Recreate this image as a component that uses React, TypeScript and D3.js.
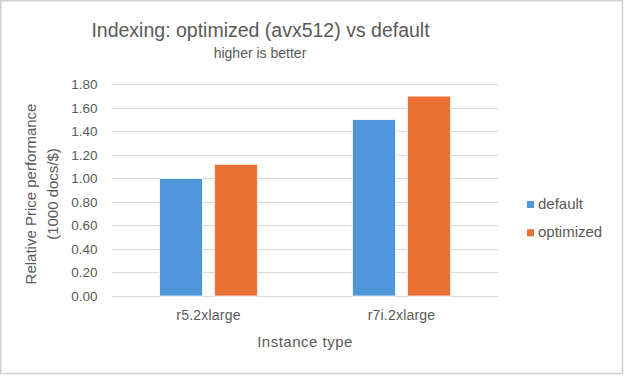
import React from "react";
import * as d3 from "d3";

const categories = ["r5.2xlarge", "r7i.2xlarge"];
const seriesNames = ["default", "optimized"];
const defaultValues = [1.0, 1.5];
const optimizedValues = [1.12, 1.7];
const yTicks = [0, 0.2, 0.4, 0.6, 0.8, 1.0, 1.2, 1.4, 1.6, 1.8];
const colors = ["#4E95D9", "#E97132"];

const W = 624;
const H = 376;
const FONT = "'Liberation Sans', Arial, sans-serif";
const TEXT = "#595959";

export default function App() {
  const plotLeft = 112;
  const plotRight = 498;
  const plotTop = 84.3;
  const plotBottom = 296;

  const x0 = d3.scaleBand<string>().domain(categories).range([plotLeft, plotRight]).paddingInner(0).paddingOuter(0);
  const y = d3.scaleLinear().domain([0, 1.8]).range([plotBottom, plotTop]);

  const barW = 43;
  const gap = 12;
  const series = [defaultValues, optimizedValues];

  return (
    <svg width={W} height={H} style={{ position: "absolute", left: 0, top: 0, background: "#fff" }} fontFamily={FONT}>
      <rect x={0.75} y={0.75} width={621.75} height={372.75} fill="#fff" stroke="#d0d0d0" strokeWidth={1.5} />
      <text x={260.5} y={36.5} textAnchor="middle" fontSize={19.5} fill={TEXT}>
        Indexing: optimized (avx512) vs default
      </text>
      <text x={260} y={57.5} textAnchor="middle" fontSize={14} fill={TEXT}>
        higher is better
      </text>
      {yTicks.map((t) => (
        <g key={t}>
          <line x1={plotLeft} x2={plotRight} y1={Math.round(y(t)) + 0.5} y2={Math.round(y(t)) + 0.5} stroke="#d9d9d9" strokeWidth={1} />
          <text x={97.5} y={y(t) + 4.8} textAnchor="end" fontSize={13.5} fill={TEXT}>
            {d3.format(".2f")(t)}
          </text>
        </g>
      ))}
      {categories.map((c, ci) => {
        const center = (x0(c) as number) + x0.bandwidth() / 2;
        return (
          <g key={c}>
            {series.map((vals, si) => {
              const bx = center - gap / 2 - barW + si * (barW + gap);
              return (
                <rect key={si} x={bx} y={y(vals[ci])} width={barW} height={plotBottom - y(vals[ci])} fill={colors[si]} stroke="#fff" strokeWidth={0.75} />
              );
            })}
            <text x={center} y={320} textAnchor="middle" fontSize={14} letterSpacing={0.2} fill={TEXT}>
              {c}
            </text>
          </g>
        );
      })}
      <text x={(plotLeft + plotRight) / 2} y={346.7} textAnchor="middle" fontSize={15} letterSpacing={0.5} fill={TEXT}>
        Instance type
      </text>
      <g transform="translate(36,194) rotate(-90)">
        <text x={0} y={0} textAnchor="middle" fontSize={15} fill={TEXT}>
          Relative Price performance
        </text>
        <text x={0} y={21.5} textAnchor="middle" fontSize={15} fill={TEXT}>
          (1000 docs/$)
        </text>
      </g>
      {seriesNames.map((s, i) => (
        <g key={s} transform={`translate(527,${201 + i * 28.3})`}>
          <rect x={0} y={0} width={7} height={7} fill={colors[i]} />
          <text x={11} y={7.5} fontSize={15} fill={TEXT}>
            {s}
          </text>
        </g>
      ))}
    </svg>
  );
}
